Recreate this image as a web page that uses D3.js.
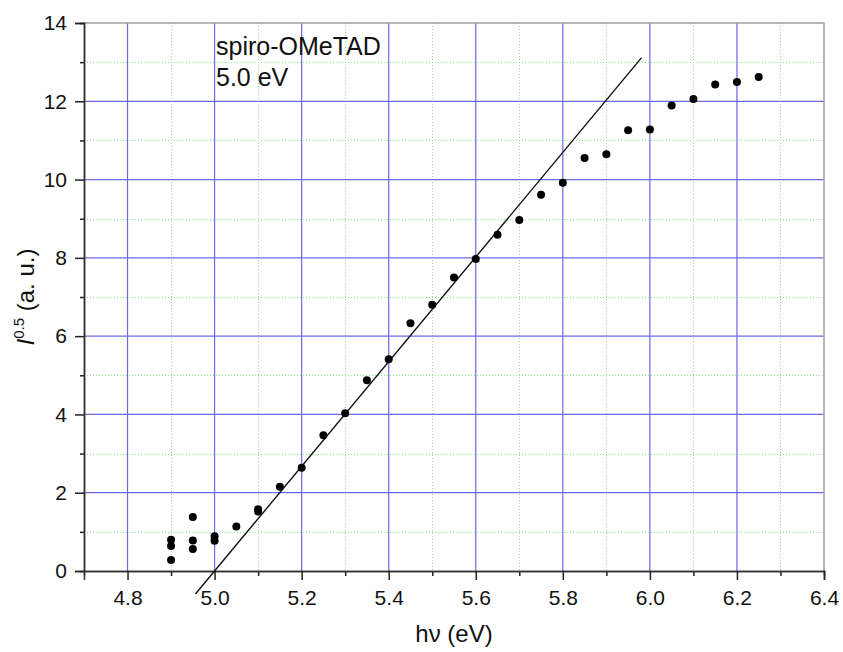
<!DOCTYPE html>
<html>
<head>
<meta charset="utf-8">
<script src="https://cdn.jsdelivr.net/npm/d3@7"></script>
<style>
  html, body { margin: 0; padding: 0; background: #fff; }
  svg { display: block; font-family: "Liberation Sans", Arial, sans-serif; }
</style>
</head>
<body>
<svg id="chart" width="843" height="652"></svg>
<script>
// Photon energy (eV) and square root of photoemission yield
const energy = [4.90, 4.90, 4.90, 4.95, 4.95, 4.95, 5.00, 5.00, 5.05, 5.10, 5.10,
                5.15, 5.20, 5.25, 5.30, 5.35, 5.40, 5.45, 5.50, 5.55, 5.60, 5.65,
                5.70, 5.75, 5.80, 5.85, 5.90, 5.95, 6.00, 6.05, 6.10, 6.15, 6.20, 6.25];
const yieldSqrt = [0.80, 0.64, 0.28, 1.38, 0.78, 0.56, 0.89, 0.77, 1.14, 1.58, 1.52,
                   2.15, 2.64, 3.47, 4.03, 4.87, 5.41, 6.33, 6.80, 7.50, 7.97, 8.59,
                   8.97, 9.61, 9.92, 10.55, 10.65, 11.26, 11.28, 11.89, 12.06, 12.43, 12.49, 12.62];

// Linear fit to the rising edge: onset (x-intercept) and slope
const onset = 5.0;
const fitSlope = 13.37;
const fitRange = [4.956, 5.981];

const xMajorTicks = [4.8, 5.0, 5.2, 5.4, 5.6, 5.8, 6.0, 6.2, 6.4];
const xMinorTicks = [4.9, 5.1, 5.3, 5.5, 5.7, 5.9, 6.1, 6.3];
const yMajorTicks = [0, 2, 4, 6, 8, 10, 12, 14];
const yMinorTicks = [1, 3, 5, 7, 9, 11, 13];

const annotation = ["spiro-OMeTAD", "5.0 eV"];

const margin = { left: 84, top: 23, right: 19, bottom: 81 };
const W = 843, H = 652;
const iw = W - margin.left - margin.right;
const ih = H - margin.top - margin.bottom;

const x = d3.scaleLinear().domain([4.7, 6.4]).range([margin.left, margin.left + iw]);
const y = d3.scaleLinear().domain([0, 14]).range([margin.top + ih, margin.top]);

const svg = d3.select("#chart");

// minor grid (dotted green)
const minorGrid = svg.append("g").attr("stroke", "#8fe08f").attr("stroke-width", 1)
  .attr("stroke-dasharray", "1,2");
minorGrid.selectAll("line.vx").data(xMinorTicks).join("line")
  .attr("x1", d => Math.round(x(d)) + 0.5).attr("x2", d => Math.round(x(d)) + 0.5)
  .attr("y1", y(14)).attr("y2", y(0));
minorGrid.selectAll("line.hy").data(yMinorTicks).join("line")
  .attr("y1", d => Math.round(y(d)) + 0.5).attr("y2", d => Math.round(y(d)) + 0.5)
  .attr("x1", x(4.7)).attr("x2", x(6.4));

// major grid (blue)
const majorGrid = svg.append("g").attr("stroke", "#6a6ae6").attr("stroke-width", 1.2);
majorGrid.selectAll("line.vx").data(xMajorTicks.filter(d => d < 6.4)).join("line")
  .attr("x1", d => x(d)).attr("x2", d => x(d))
  .attr("y1", y(14)).attr("y2", y(0));
majorGrid.selectAll("line.hy").data(yMajorTicks.filter(d => d > 0 && d < 14)).join("line")
  .attr("y1", d => y(d)).attr("y2", d => y(d))
  .attr("x1", x(4.7)).attr("x2", x(6.4));

// frame: top and right in grey
svg.append("path")
  .attr("d", `M${x(4.7)},${y(14)}H${x(6.4)}V${y(0)}`)
  .attr("fill", "none").attr("stroke", "#a0a0a0").attr("stroke-width", 1.5);

// axes
const xAxis = d3.axisBottom(x).tickValues(xMajorTicks).tickFormat(d3.format(".1f"))
  .tickSize(9).tickPadding(10);
const xMinor = d3.axisBottom(x).tickValues(xMinorTicks).tickFormat("").tickSize(5);
const yAxis = d3.axisLeft(y).tickValues(yMajorTicks).tickFormat(d3.format("d"))
  .tickSize(9).tickPadding(8);
const yMinor = d3.axisLeft(y).tickValues(yMinorTicks).tickFormat("").tickSize(4);

function styleAxis(g) {
  g.attr("font-size", null).attr("font-family", null);
  g.select(".domain").attr("stroke", "#333").attr("stroke-width", 1.5);
  g.selectAll(".tick line").attr("stroke", "#222").attr("stroke-width", 1.5);
  g.selectAll(".tick text").attr("fill", "#111").style("font-size", "21px");
}

svg.append("g").attr("transform", `translate(0,${y(0)})`).call(xMinor).call(styleAxis);
svg.append("g").attr("transform", `translate(0,${y(0)})`).call(xAxis).call(styleAxis);
svg.append("g").attr("transform", `translate(${x(4.7)},0)`).call(yMinor).call(styleAxis);
svg.append("g").attr("transform", `translate(${x(4.7)},0)`).call(yAxis).call(styleAxis);

// fit line
const fitLine = d3.line().x(d => x(d)).y(d => y(fitSlope * (d - onset)));
svg.append("path").datum(fitRange)
  .attr("d", fitLine).attr("fill", "none").attr("stroke", "#111").attr("stroke-width", 1.4);

// data points
svg.append("g").selectAll("circle").data(energy).join("circle")
  .attr("cx", d => x(d)).attr("cy", (d, i) => y(yieldSqrt[i]))
  .attr("r", 4).attr("fill", "#000");

// annotation
svg.append("g").selectAll("text").data(annotation).join("text")
  .attr("x", 216).attr("y", (d, i) => 55 + i * 31)
  .style("font-size", "25px").attr("fill", "#111")
  .text(d => d);

// axis titles
svg.append("text")
  .attr("x", 454).attr("y", 642).attr("text-anchor", "middle")
  .style("font-size", "24px").attr("fill", "#111")
  .text("hν (eV)");

const yTitle = svg.append("text")
  .attr("transform", `translate(34,${y(7)}) rotate(-90)`)
  .attr("text-anchor", "middle")
  .style("font-size", "24px").attr("fill", "#111");
yTitle.append("tspan").style("font-style", "italic").text("I");
yTitle.append("tspan").attr("dy", -10).style("font-size", "15px").text("0.5");
yTitle.append("tspan").attr("dy", 10).text(" (a. u.)");
</script>
</body>
</html>
